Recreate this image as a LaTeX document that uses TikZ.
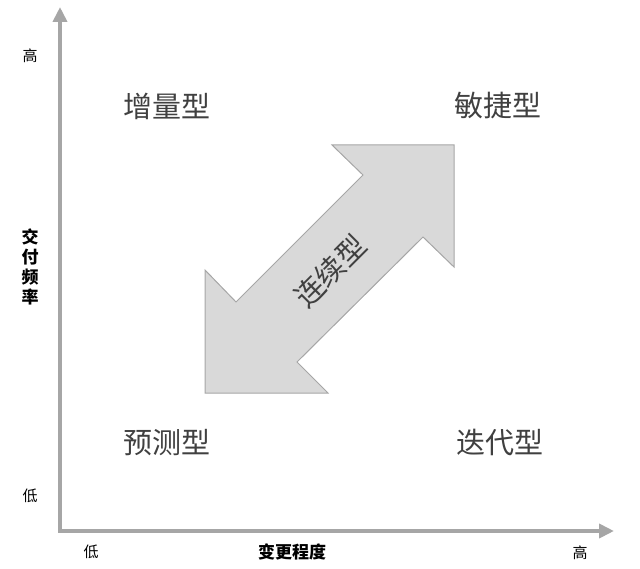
\documentclass[tikz,border=0pt]{standalone}
\usepackage{fontspec}
\newfontfamily\cjk{Noto Sans CJK SC}
\usetikzlibrary{arrows.meta}
\definecolor{axisgray}{RGB}{166,166,166}
\definecolor{arrowfill}{RGB}{217,217,217}
\definecolor{labelgray}{RGB}{64,64,64}

\begin{document}
\begin{tikzpicture}[x=1pt,y=-1pt,
    axis/.style={{Triangle[width=14pt,length=15pt]}-{Triangle[width=14pt,length=15pt]},line width=4pt,axisgray},
    quad/.style={font=\cjk\fontsize{29}{29}\selectfont,text=labelgray,inner sep=0pt},
    tick/.style={font=\cjk\fontsize{15}{15}\selectfont,inner sep=0pt},
    title/.style={font=\cjk\bfseries\fontsize{17}{20}\selectfont,inner sep=0pt,align=center}]
  \useasboundingbox (0,0) rectangle (640,569);
  % axes
  \coordinate (ytop) at (60,7);
  \coordinate (o) at (60,531);
  \coordinate (xend) at (614,531);
  \draw[axis] (ytop) -- (o) -- (xend);
  % two-way arrow
  \draw[fill=arrowfill,draw=axisgray,line width=1pt] (454,145) -- (454,267) -- (423,237) -- (297,362)
    -- (328,393) -- (205,393) -- (205,270) -- (236,302) -- (363,175) -- (332,145) -- cycle;
  \node[quad,rotate=45] (flow) at (330,271) {连续型};
  % quadrants
  \node[quad] (incr) at (167,106) {增量型};
  \node[quad] (agile) at (498,106) {敏捷型};
  \node[quad] (pred) at (167,443) {预测型};
  \node[quad] (iter) at (500,443) {迭代型};
  % axis labels
  \node[title] (freq) at (30,267) {交\\付\\频\\率};
  \node[tick] (yhigh) at (30,56) {高};
  \node[tick] (ylow) at (30,496) {低};
  \node[title] (change) at (292,552) {变更程度};
  \node[tick] (xlow) at (91,552) {低};
  \node[tick] (xhigh) at (580,553) {高};
\end{tikzpicture}
\end{document}
